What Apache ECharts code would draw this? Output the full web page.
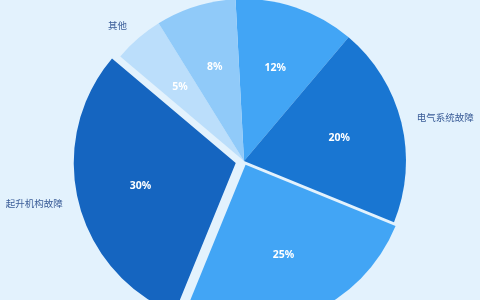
<!DOCTYPE html>
<html>
<head>
<meta charset="utf-8">
<script src="https://cdn.jsdelivr.net/npm/echarts@6/dist/echarts.min.js"></script>
<style>
  html, body { margin: 0; padding: 0; background: #e3f2fd; }
  #chart { width: 480px; height: 300px; }
</style>
</head>
<body>
<div id="chart"></div>
<script>
// fault share, clockwise from the top
const names = ['制动系统故障', '电气系统故障', '运行机构故障', '起升机构故障', '其他', '金属结构故障']
const values = [12, 20, 25, 30, 5, 8]
const colors = ['#42a5f5', '#1976d2', '#42a5f5', '#1565c0', '#bbdefb', '#90caf9']
const namedSlices = ['电气系统故障', '起升机构故障', '其他']
const farSlice = '起升机构故障'   // pulled out the most
const nearSlice = '运行机构故障'  // pulled out a little

const center = [244, 161]
const radius = 162
const clear = 'rgba(0,0,0,0)'

// where the outer name labels sit (label line is hidden)
const nameLine = {
  '电气系统故障': { length: 22, length2: -6 },
  '起升机构故障': { length: 8, length2: 8 },
  '其他': { length: 17, length2: 0 }
}

function base (offset) {
  return {
    type: 'pie',
    center: center,
    startAngle: 93,
    clockwise: true,
    selectedMode: 'multiple',
    selectedOffset: offset,
    avoidLabelOverlap: false,
    silent: true,
    animation: false,
    labelLine: { show: false }
  }
}

// sectors: all but the slightly pulled slice
const mainPie = Object.assign(base(8.5), {
  radius: [0, radius],
  label: {
    show: false,
    position: 'outside',
    color: '#3b5d98',
    fontSize: 9.5,
    fontFamily: 'Noto Sans CJK SC',
    distanceToLabelLine: 0
  },
  data: names.map((n, i) => ({
    name: n,
    value: values[i],
    selected: n === farSlice,
    itemStyle: { color: n === nearSlice ? clear : colors[i] },
    label: { show: namedSlices.indexOf(n) >= 0 },
    labelLine: Object.assign({ show: false }, nameLine[n] || {})
  }))
})

// the slightly pulled slice on its own
const nearPie = Object.assign(base(4), {
  radius: [0, radius],
  label: { show: false },
  data: names.map((n, i) => ({
    name: n,
    value: values[i],
    selected: n === nearSlice,
    itemStyle: { color: n === nearSlice ? colors[i] : clear }
  }))
})

// percent labels, placed mid-ring
function percentPie (offset, pulled, only) {
  return Object.assign(base(offset), {
    radius: [28, radius],
    itemStyle: { color: clear },
    label: {
      show: true,
      position: 'inside',
      formatter: '{c}%',
      color: '#ffffff',
      fontWeight: 'bold',
      fontSize: 10.5,
      fontFamily: 'Noto Sans'
    },
    data: names.map((n, i) => ({
      name: n,
      value: values[i],
      selected: n === pulled,
      label: { show: only(n) }
    }))
  })
}

const chart = echarts.init(document.getElementById('chart'))
chart.setOption({
  backgroundColor: '#e3f2fd',
  series: [
    mainPie,
    nearPie,
    percentPie(8.5, farSlice, n => n !== nearSlice),
    percentPie(4, nearSlice, n => n === nearSlice)
  ]
})
</script>
</body>
</html>
